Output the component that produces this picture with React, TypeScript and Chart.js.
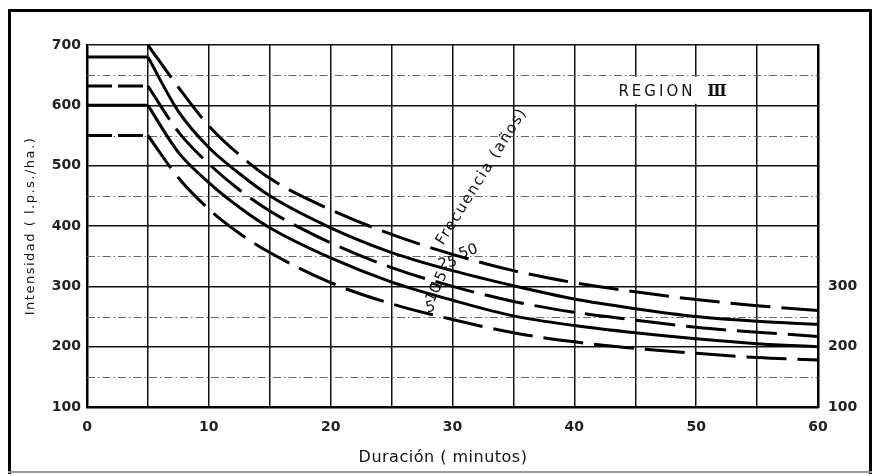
import React, { useEffect, useRef } from 'react';
import { Chart, registerables } from 'chart.js';

Chart.register(...registerables);

// ---- data ----
const durations = [5, 7.5, 10, 12.5, 15, 20, 25, 30, 35, 40, 45, 50, 55, 60];
const freq50 = [700, 630, 566, 518, 479, 427, 386, 353, 326, 306, 291, 278, 268, 260];
const freq25 = [680, 590, 530, 487, 450, 397, 356, 326, 301, 279, 263, 250, 242, 237];
const freq15 = [632, 556, 503, 460, 425, 372, 331, 300, 275, 257, 244, 232, 224, 217];
const freq10 = [600, 522, 472, 431, 397, 347, 307, 277, 251, 235, 223, 213, 205, 200];
const freq5 = [550, 480, 428, 388, 356, 306, 271, 245, 223, 208, 197, 189, 182, 178];

const frequencyNames = ['50', '25', '15', '10', '5'];
const plateauLevels = [null, 680, 632, 600, 550];
const plateauStart = 0;
const plateauEnd = 5;
const dashedSeries = [true, false, true, false, true];

const xLabelTicks = [0, 10, 20, 30, 40, 50, 60];
const yLeftTicks = [100, 200, 300, 400, 500, 600, 700];
const yRightTicks = [100, 200, 300];
const minorLevels = [150, 250, 350, 450, 550, 650];

// label anchors (data coords)
const freqLabelX = [31.3, 29.6, 28.95, 28.5, 28.2];
const freqLabelY = [357, 338, 309, 289, 265];
const freqLabelRot = [-20, -12, -65, -65, -15];

const FONT = '"DejaVu Sans", "Liberation Sans", sans-serif';

const overlay = {
  id: 'overlay',
  beforeDatasetsDraw(chart: any) {
    const { ctx, chartArea, scales } = chart;
    const { left, right } = chartArea;
    const x = scales.x;
    const y = scales.y;
    ctx.save();
    ctx.strokeStyle = '#666';
    ctx.lineWidth = 1;
    ctx.setLineDash([8, 3, 1.5, 3]);
    for (const v of minorLevels) {
      const py = Math.round(y.getPixelForValue(v)) + 0.5;
      ctx.beginPath();
      ctx.moveTo(left, py);
      ctx.lineTo(right, py);
      ctx.stroke();
    }
    ctx.setLineDash([]);
    const bx1 = x.getPixelForValue(40) + 1.5;
    const bx2 = x.getPixelForValue(55) - 1.5;
    const by1 = y.getPixelForValue(650) + 1.5;
    const by2 = y.getPixelForValue(600) - 1.5;
    ctx.fillStyle = '#fff';
    ctx.fillRect(bx1, by1, bx2 - bx1, by2 - by1);
    ctx.restore();
  },
  afterDatasetsDraw(chart: any) {
    const { ctx, scales } = chart;
    const x = scales.x;
    const y = scales.y;
    ctx.save();
    ctx.fillStyle = '#111';
    // REGION III
    ctx.textBaseline = 'middle';
    ctx.textAlign = 'left';
    const cx = x.getPixelForValue(48);
    const cy = y.getPixelForValue(622);
    const f1 = `15px ${FONT}`;
    const f2 = `bold 16px "DejaVu Serif", serif`;
    ctx.font = f1;
    (ctx as any).letterSpacing = '3px';
    const w1 = ctx.measureText('REGION ').width;
    ctx.font = f2;
    (ctx as any).letterSpacing = '-1.5px';
    const w2 = ctx.measureText('III').width;
    const startX = cx - (w1 + w2 + 4) / 2;
    ctx.font = f1;
    (ctx as any).letterSpacing = '3px';
    ctx.fillText('REGION ', startX, cy);
    ctx.font = f2;
    (ctx as any).letterSpacing = '-1.5px';
    ctx.fillText('III', startX + w1 + 4, cy);
    (ctx as any).letterSpacing = '0px';

    // Frecuencia (años)
    ctx.save();
    ctx.translate(x.getPixelForValue(32.4), y.getPixelForValue(482));
    ctx.rotate((-58 * Math.PI) / 180);
    ctx.textAlign = 'center';
    ctx.font = `15px ${FONT}`;
    (ctx as any).letterSpacing = '1.5px';
    ctx.fillText('Frecuencia (años)', 0, 0);
    ctx.restore();

    // frequency numbers
    ctx.font = `15px ${FONT}`;
    ctx.textAlign = 'center';
    frequencyNames.forEach((name, i) => {
      ctx.save();
      ctx.translate(x.getPixelForValue(freqLabelX[i]), y.getPixelForValue(freqLabelY[i]));
      ctx.rotate((freqLabelRot[i] * Math.PI) / 180);
      ctx.fillText(name, 0, 0);
      ctx.restore();
    });

    // axis titles
    ctx.save();
    ctx.translate(31, 226);
    ctx.rotate(-Math.PI / 2);
    ctx.textAlign = 'center';
    ctx.font = `13px ${FONT}`;
    (ctx as any).letterSpacing = '1.5px';
    ctx.fillText('Intensidad ( l.p.s./ha.)', 0, 0);
    ctx.restore();

    ctx.textAlign = 'center';
    ctx.font = `16px ${FONT}`;
    (ctx as any).letterSpacing = '0.5px';
    ctx.fillText('Duración ( minutos)', 443, 458);
    (ctx as any).letterSpacing = '0px';

    // outer frame
    ctx.fillStyle = '#000';
    ctx.fillRect(8, 9, 864, 3);
    ctx.fillRect(8, 9, 3, 465);
    ctx.fillRect(869, 9, 3, 465);
    ctx.fillStyle = '#999';
    ctx.fillRect(8, 471, 864, 2);
    ctx.restore();
  },
};

function buildDatasets() {
  const series = [freq50, freq25, freq15, freq10, freq5];
  const ds: any[] = [];
  series.forEach((vals, i) => {
    ds.push({
      label: frequencyNames[i],
      data: durations.map((d, j) => ({ x: d, y: vals[j] })),
      borderColor: '#000',
      borderWidth: 3,
      borderDash: dashedSeries[i] ? [40, 11] : [],
      pointRadius: 0,
      fill: false,
      cubicInterpolationMode: 'monotone',
      borderCapStyle: 'butt',
    });
    const lvl = plateauLevels[i];
    if (lvl !== null) {
      ds.push({
        label: frequencyNames[i] + ' plateau',
        data: [
          { x: plateauStart, y: lvl },
          { x: plateauEnd, y: lvl },
        ],
        borderColor: '#000',
        borderWidth: 3,
        borderDash: dashedSeries[i] ? [25, 6] : [],
        pointRadius: 0,
        fill: false,
        tension: 0,
      });
    }
  });
  return ds;
}

export default function App() {
  const ref = useRef<HTMLCanvasElement | null>(null);
  useEffect(() => {
    document.body.style.margin = '0';
    const canvas = ref.current!;
    const tickFont = { family: FONT, size: 14, weight: 'bold' as const };
    const chart = new Chart(canvas, {
      type: 'line',
      data: { datasets: buildDatasets() },
      plugins: [overlay],
      options: {
        animation: false,
        responsive: false,
        maintainAspectRatio: false,
        devicePixelRatio: 1,
        layout: { padding: { top: 45, left: 0, right: 0, bottom: 0 } },
        plugins: {
          legend: { display: false },
          tooltip: { enabled: false },
          title: { display: false },
        },
        scales: {
          x: {
            type: 'linear',
            min: 0,
            max: 60,
            ticks: {
              stepSize: 5,
              autoSkip: false,
              maxRotation: 0,
              padding: 12,
              color: '#222',
              font: tickFont,
              callback: (v: any) => (xLabelTicks.includes(Number(v)) ? String(v) : ''),
            },
            grid: { color: '#111', lineWidth: 1.5, drawTicks: false },
            border: { display: true, color: '#000', width: 2.5 },
            afterFit: (s: any) => {
              s.height = 67;
            },
          },
          y: {
            type: 'linear',
            position: 'left',
            min: 100,
            max: 700,
            ticks: {
              stepSize: 50,
              autoSkip: false,
              padding: 6,
              color: '#222',
              font: tickFont,
              callback: (v: any) => (yLeftTicks.includes(Number(v)) ? String(v) : ''),
            },
            grid: {
              color: (c: any) => (c.tick && c.tick.value % 100 === 0 ? '#111' : 'rgba(0,0,0,0)'),
              lineWidth: 1.5,
              drawTicks: false,
            },
            border: { display: true, color: '#000', width: 2.5 },
            afterFit: (s: any) => {
              s.width = 87;
            },
          },
          y2: {
            type: 'linear',
            position: 'right',
            min: 100,
            max: 700,
            ticks: {
              stepSize: 100,
              autoSkip: false,
              padding: 10,
              color: '#222',
              font: tickFont,
              callback: (v: any) => (yRightTicks.includes(Number(v)) ? String(v) : ''),
            },
            grid: { drawOnChartArea: false, drawTicks: false },
            border: { display: true, color: '#000', width: 2.5 },
            afterFit: (s: any) => {
              s.width = 54;
            },
          },
        },
      } as any,
    });
    return () => chart.destroy();
  }, []);
  return (
    <div style={{ position: 'relative', width: 872, height: 474, background: '#fff' }}>
      <canvas ref={ref} width={872} height={474} style={{ display: 'block', width: 872, height: 474 }} />
    </div>
  );
}
